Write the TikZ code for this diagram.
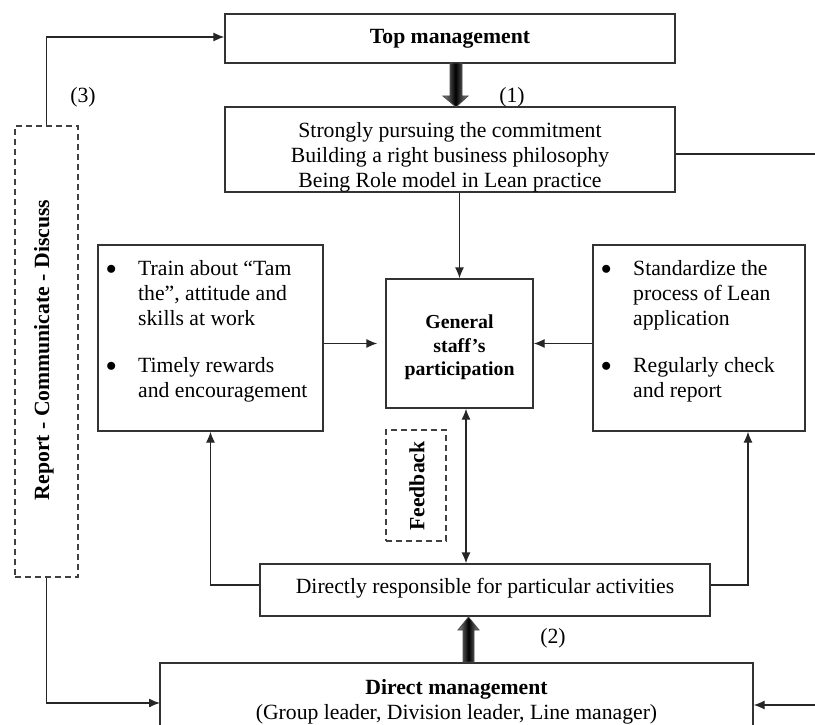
\documentclass[tikz,border=0pt]{standalone}
\usepackage{fontspec}
\setmainfont{Liberation Serif}
\usetikzlibrary{arrows.meta,calc}
\tikzset{
  box/.style={draw=black!80, line width=1.3pt, inner sep=0pt},
  dbox/.style={draw=black!75, line width=1.3pt, dash pattern=on 6pt off 4pt, inner sep=0pt},
  txt/.style={inner sep=0pt, align=center, font=\fontsize{21.7}{25}\selectfont},
  btxt/.style={txt, font=\fontsize{21.7}{25}\selectfont\bfseries},
  conn/.style={draw=black!85, line width=1.3pt},
  arr/.style={conn, -{Latex[length=11pt,width=9pt]}},
  darr/.style={conn, {Latex[length=11pt,width=9pt]}-{Latex[length=11pt,width=9pt]}},
  fat/.style={left color=black!45, right color=black!45, middle color=black, draw=black!70, line width=0.8pt},
}
\newcommand{\bul}{\raisebox{1pt}{$\bullet$}}
\begin{document}
\begin{tikzpicture}[x=1pt,y=-1pt]
\clip (0,0) rectangle (815,725);
\fill[white] (0,0) rectangle (815,725);
% boxes
\node[box, minimum width=450, minimum height=49] (top) at (450,38.5) {};
\node[btxt] (topt) at (450,38.5) {Top management};
\node[box, minimum width=450, minimum height=85] (comm) at (450,149.5) {};
\node[txt] (commt) at (450,157) {Strongly pursuing the commitment\\Building a right business philosophy\\Being Role model in Lean practice};
\node[box, minimum width=147, minimum height=129] (gen) at (459.5,343.5) {};
\node[btxt, font=\fontsize{19.8}{23.5}\selectfont\bfseries] (gent) at (459.5,347.5) {General\\staff’s\\participation};
\node[box, minimum width=225, minimum height=186] (lb) at (210.5,338) {};
\node[txt, anchor=north west, align=left] (lbt) at (106,258) {%
\begin{tabular}{@{}p{32pt}@{}l@{}}
\bul & Train about “Tam\\
 & the”, attitude and\\
 & skills at work\\[22pt]
\bul & Timely rewards\\
 & and encouragement
\end{tabular}};
\node[box, minimum width=212, minimum height=186] (rb) at (699,338) {};
\node[txt, anchor=north west, align=left] (rbt) at (601,258) {%
\begin{tabular}{@{}p{32pt}@{}l@{}}
\bul & Standardize the\\
 & process of Lean\\
 & application\\[22pt]
\bul & Regularly check\\
 & and report
\end{tabular}};
\node[dbox, minimum width=60, minimum height=111] (fb) at (416,485.5) {};
\node[btxt, rotate=90] (fbt) at (417,486) {Feedback};
\node[box, minimum width=450, minimum height=52] (dir) at (485,590) {};
\node[txt] (dirt) at (485,588) {Directly responsible for particular activities};
\node[box, minimum width=593, minimum height=100] (dm) at (456.5,713) {};
\node[txt] (dmt) at (456.5,702) {\textbf{Direct management}\\(Group leader, Division leader, Line manager)};
\node[dbox, minimum width=63, minimum height=451] (rep) at (46.5,351.5) {};
\node[btxt, rotate=90] (rept) at (44,350) {Report - Communicate - Discuss};
% labels
\node[txt] (l1) at (512,97) {(1)};
\node[txt] (l2) at (553,638) {(2)};
\node[txt] (l3) at (83,97) {(3)};
% free ends
\coordinate (rout) at (830,154);
\coordinate (rin) at (830,705);
\coordinate (dml) at (160,703);
% connectors
\draw[arr] (rep.north) |- ([yshift=1.5pt]top.west);
\draw[arr] (rep.south) |- (dml);
\draw[conn] ([yshift=-4.5pt]comm.east) -- (rout);
\draw[arr] (comm.south -| gen.north) -- (gen.north);
\draw[arr, shorten >=8pt] (lb.east |- gen.west) -- (gen.west);
\draw[arr] (rb.west |- gen.east) -- (gen.east);
\draw[darr] ([xshift=6.5pt]gen.south) -- ([xshift=6.5pt]gen.south |- dir.north);
\draw[arr] ([yshift=5pt]dir.west) -| (lb.south);
\draw[arr] ([yshift=5pt]dir.east) -| ([xshift=49pt]rb.south);
\draw[arr] (rin) -- (dm.east |- rin);
% fat arrows
\shade[fat] (450,63) -- (462,63) -- (462,96) -- (468,96) -- (456,107) -- (443,96) -- (450,96) -- cycle;
\shade[fat] (463,662) -- (474,662) -- (474,630) -- (479,630) -- (468.5,617) -- (458,630) -- (463,630) -- cycle;
\end{tikzpicture}
\end{document}
